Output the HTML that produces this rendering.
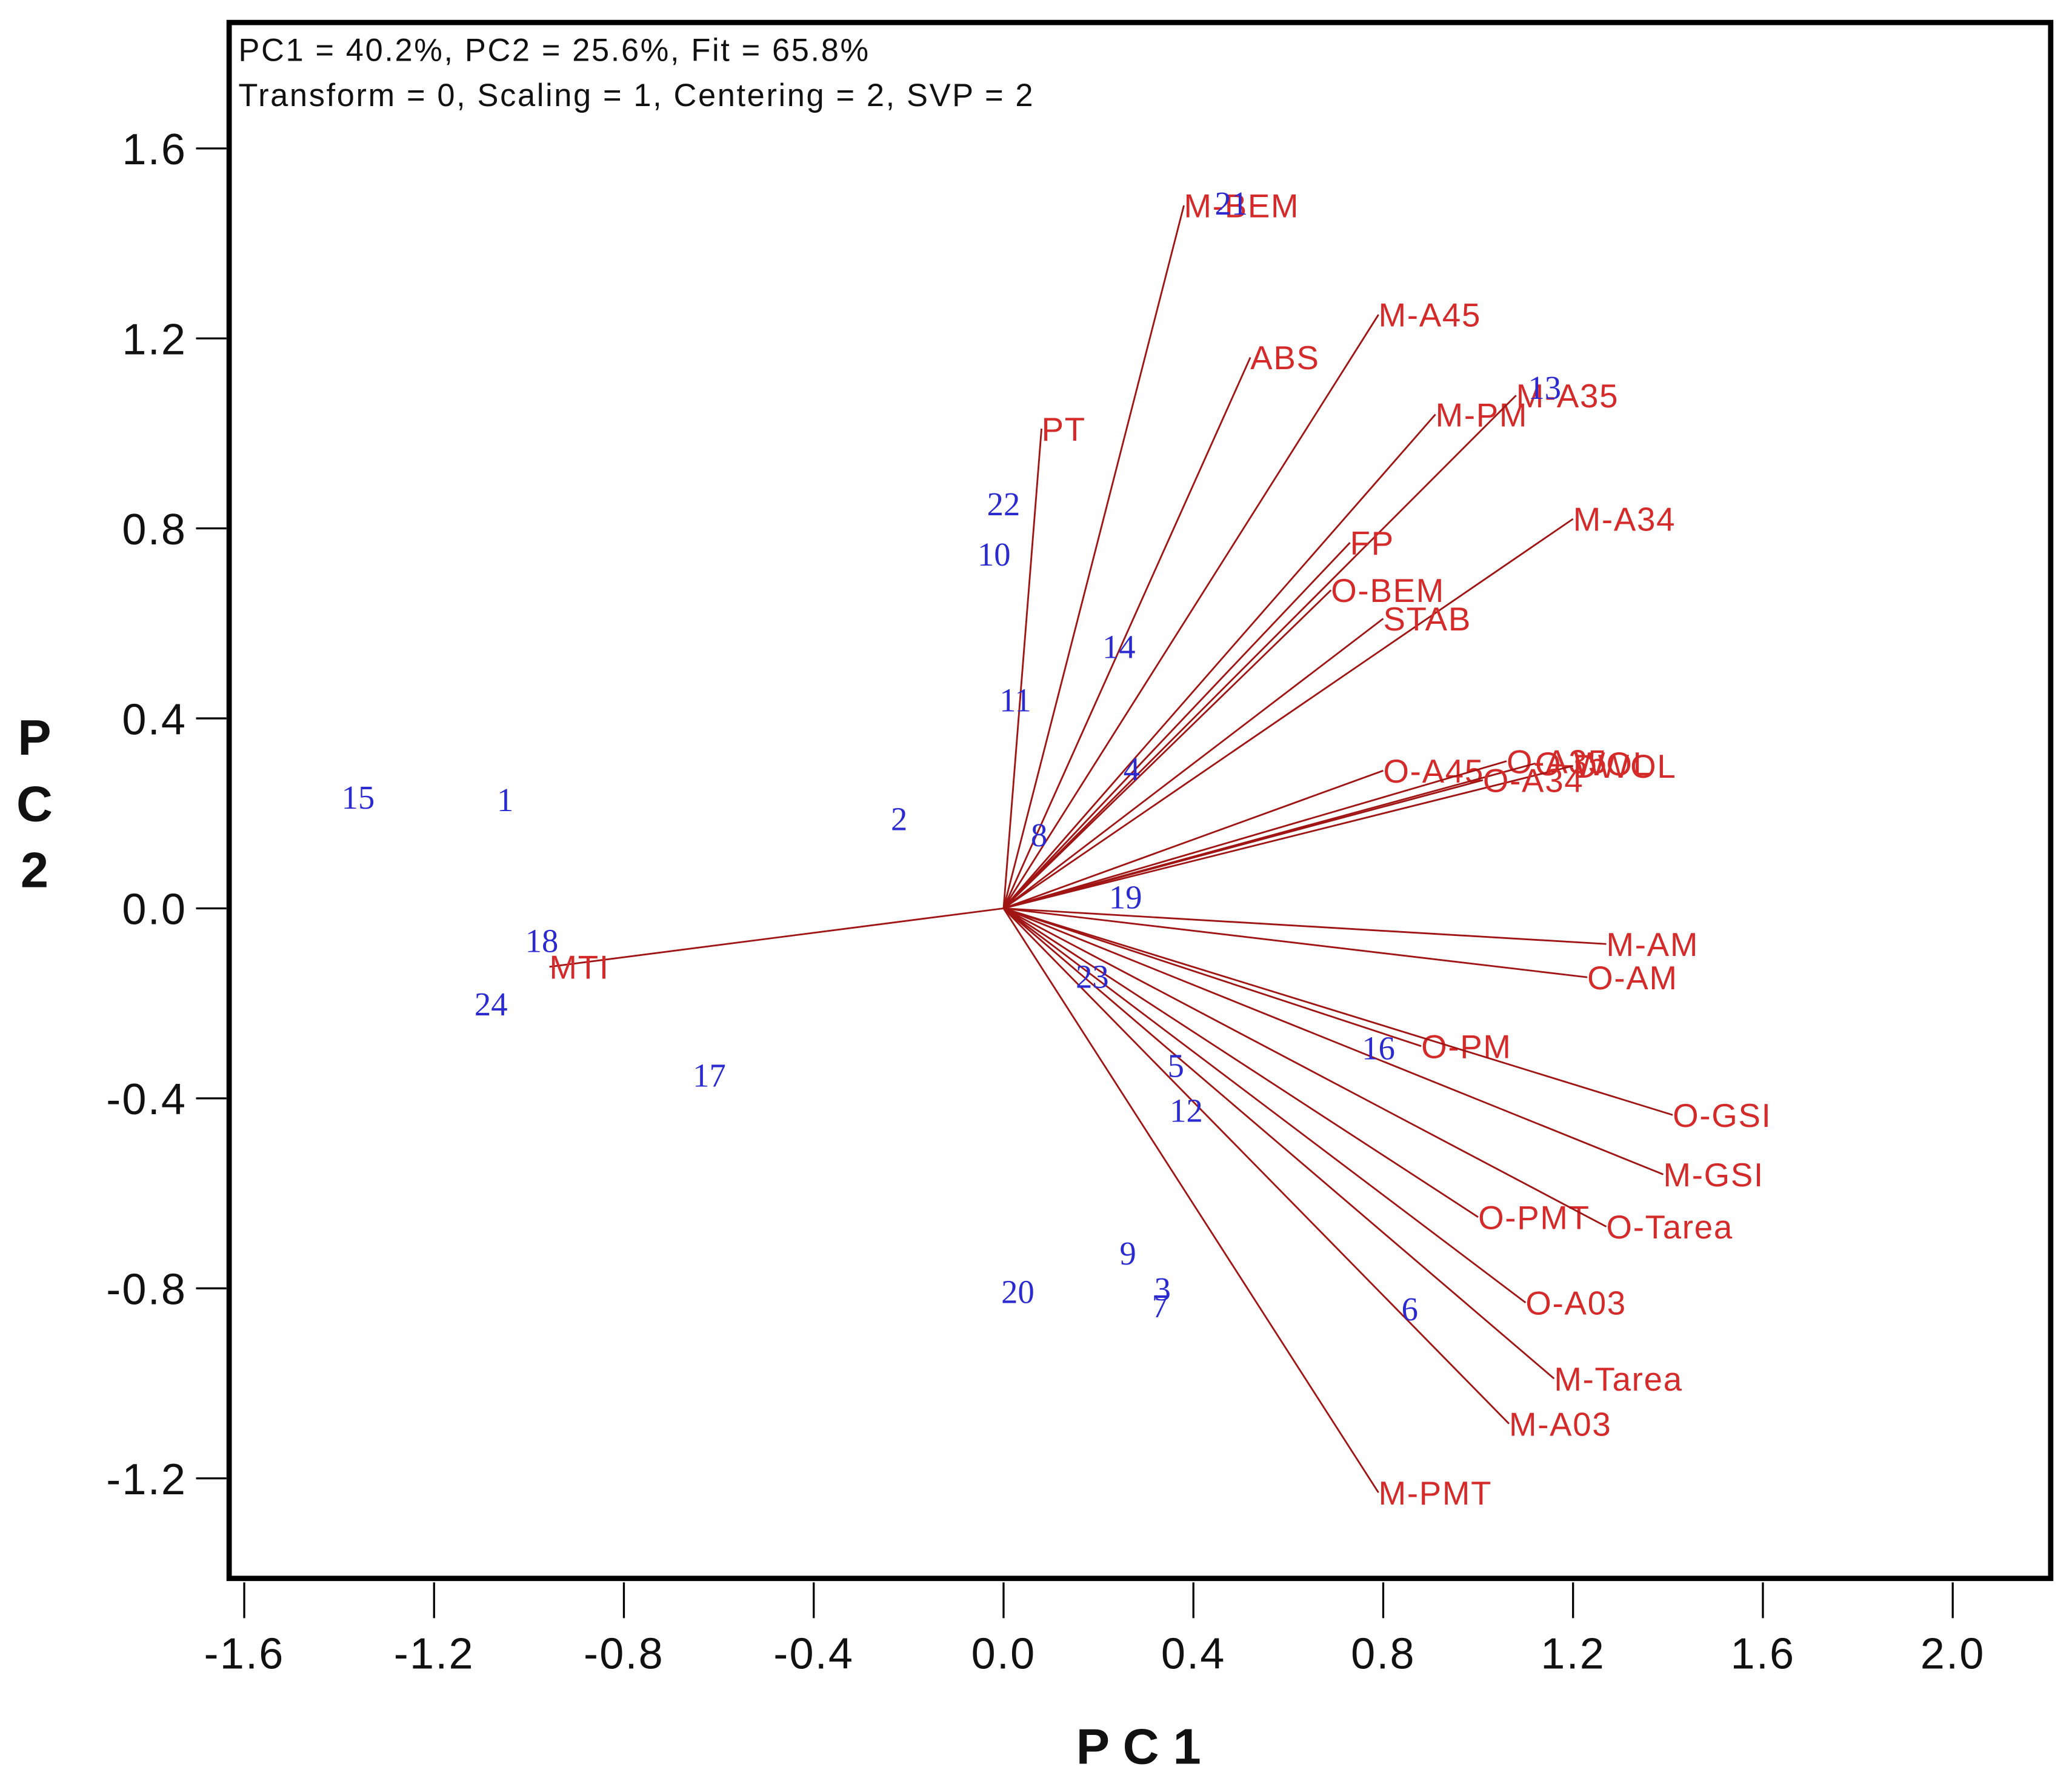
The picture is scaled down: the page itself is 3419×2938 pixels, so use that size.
<!DOCTYPE html>
<html><head><meta charset="utf-8"><style>
html,body{margin:0;padding:0;background:#fff}
svg{display:block}
</style></head><body>
<svg id="chart" width="3419" height="2938" viewBox="0 0 1565 1345" xmlns="http://www.w3.org/2000/svg">
<rect x="0" y="0" width="1565" height="1345" fill="#fff"/>
<g id="axes"></g>
<g id="vectors"></g>
<g id="points"></g>
</svg>
<script>
const xTicks = [-1.6,-1.2,-0.8,-0.4,0.0,0.4,0.8,1.2,1.6,2.0];
const yTicks = [1.6,1.2,0.8,0.4,0.0,-0.4,-0.8,-1.2];
const varNames = ["M-BEM","ABS","M-A45","PT","M-PM","M-A35","FP","M-A34","O-BEM","STAB","O-A45","O-A35","O-WOL","DWOL","O-A34","M-AM","O-AM","O-PM","O-GSI","M-GSI","O-PMT","O-Tarea","O-A03","M-Tarea","M-A03","M-PMT","MTI"];
const varX = [0.38,0.52,0.79,0.08,0.91,1.08,0.73,1.20,0.69,0.80,0.80,1.06,1.12,1.20,1.01,1.27,1.23,0.88,1.41,1.39,1.00,1.27,1.10,1.16,1.065,0.79,-0.957];
const varY = [1.48,1.16,1.25,1.01,1.04,1.08,0.77,0.82,0.67,0.61,0.29,0.31,0.305,0.30,0.27,-0.075,-0.145,-0.29,-0.435,-0.56,-0.65,-0.67,-0.83,-0.99,-1.085,-1.23,-0.123];
const ptNames = ["15","1","2","22","10","14","11","4","8","19","21","13","18","24","17","23","5","12","16","9","20","3","7","6"];
const ptX = [-1.36,-1.05,-0.22,0.0,-0.02,0.243,0.025,0.27,0.075,0.257,0.48,1.14,-0.973,-1.08,-0.62,0.187,0.363,0.385,0.79,0.262,0.03,0.335,0.33,0.856];
const ptY = [0.235,0.23,0.19,0.853,0.747,0.552,0.44,0.295,0.156,0.025,1.486,1.098,-0.067,-0.20,-0.35,-0.142,-0.33,-0.424,-0.293,-0.725,-0.806,-0.80,-0.836,-0.842];

const NS="http://www.w3.org/2000/svg";
const X0=758, XS=358.5, Y0=686, YS=358.7;
function sx(v){return X0+v*XS;}
function sy(v){return Y0-v*YS;}
function mk(tag,attrs,parent,txt){const e=document.createElementNS(NS,tag);for(const k in attrs)e.setAttribute(k,attrs[k]);if(txt!==undefined)e.textContent=txt;parent.appendChild(e);return e;}
const axes=document.getElementById('axes');
const vec=document.getElementById('vectors');
const pts=document.getElementById('points');

let frame=mk('rect',{x:173,y:17,width:1376,height:1175,fill:'none',stroke:'#000','stroke-width':4},axes);


let h1=mk('text',{x:180,y:46,'font-family':'Liberation Sans, sans-serif','font-size':24,'letter-spacing':1.2,fill:'#111'},axes,'PC1 = 40.2%, PC2 = 25.6%, Fit = 65.8%');


let h2=mk('text',{x:180,y:80,'font-family':'Liberation Sans, sans-serif','font-size':24,'letter-spacing':1.2,fill:'#111'},axes,'Transform = 0, Scaling = 1, Centering = 2, SVP = 2');



xTicks.forEach(t=>{
  const x=sx(t);
  let l=mk('line',{x1:x,y1:1195,x2:x,y2:1222,stroke:'#000','stroke-width':1.5},axes);
  
  
  let tx=mk('text',{x:x,y:1260,'text-anchor':'middle','font-family':'Liberation Sans, sans-serif','font-size':33,'letter-spacing':1,fill:'#111'},axes,t.toFixed(1));
  
  
});
yTicks.forEach(t=>{
  const y=sy(t);
  let l=mk('line',{x1:148,y1:y,x2:171,y2:y,stroke:'#000','stroke-width':1.5},axes);
  
  
  let tx=mk('text',{x:141,y:y+12,'text-anchor':'end','font-family':'Liberation Sans, sans-serif','font-size':33,'letter-spacing':1,fill:'#111'},axes,t.toFixed(1));
  
  
});
let xt=mk('text',{x:860,y:1332,'text-anchor':'middle','font-family':'Liberation Sans, sans-serif','font-size':38,'font-weight':'bold',fill:'#111'},axes,'P C 1');


let yt=mk('text',{x:26,'text-anchor':'middle','font-family':'Liberation Sans, sans-serif','font-size':38,'font-weight':'bold',fill:'#111'},axes);


['P','C','2'].forEach((c,i)=>{mk('tspan',{x:26,y:570+i*50},yt,c);});

varNames.forEach((n,i)=>{
  const x=sx(varX[i]), y=sy(varY[i]);
  let l=mk('line',{x1:X0,y1:Y0,x2:x,y2:y,stroke:'#a01414','stroke-width':1.3},vec);
  
  
  let t=mk('text',{x:x,y:y+9,'font-family':'Liberation Sans, sans-serif','font-size':25,'letter-spacing':0.8,fill:'#d42a2a'},vec,n);
  
  
});
ptNames.forEach((n,i)=>{
  const x=sx(ptX[i]), y=sy(ptY[i]);
  let t=mk('text',{x:x,y:y+9,'text-anchor':'middle','font-family':'Liberation Serif, serif','font-size':25,fill:'#2a2ad0'},pts,n);
  
  
});
</script>
</body></html>
